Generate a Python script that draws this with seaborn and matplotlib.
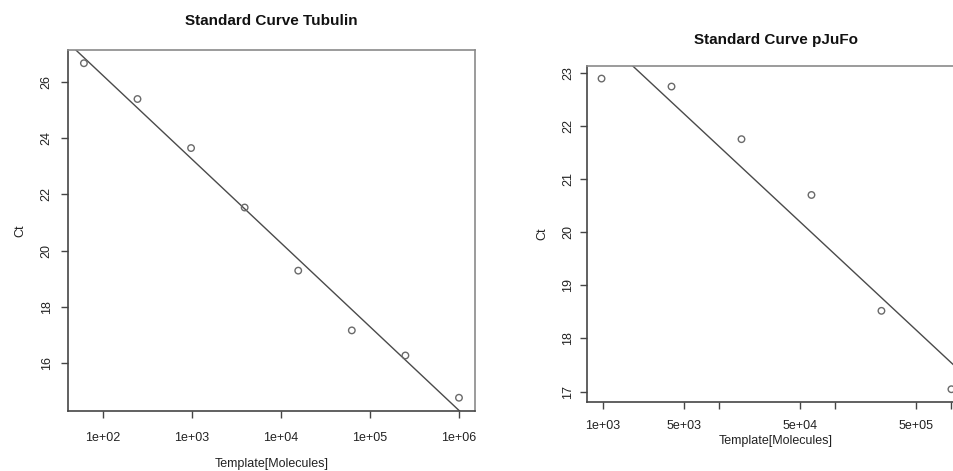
import numpy as np
import pandas as pd
import matplotlib
matplotlib.use("Agg")
import matplotlib.pyplot as plt
import seaborn as sns

# Tubulin standard: 4-fold dilution series
tub_template = [61.03515625, 244.140625, 976.5625, 3906.25, 15625.0, 62500.0, 250000.0, 1000000.0]
tub_ct = [26.65, 25.38, 23.64, 21.53, 19.29, 17.17, 16.28, 14.78]

# pJuFo standard: 4-fold dilution series
pjufo_template = [976.5625, 3906.25, 15625.0, 62500.0, 250000.0, 1000000.0]
pjufo_ct = [22.89, 22.74, 21.75, 20.70, 18.52, 17.045]

tub_xticks = [1e2, 1e3, 1e4, 1e5, 1e6]
tub_xticklabels = ["1e+02", "1e+03", "1e+04", "1e+05", "1e+06"]
tub_yticks = [16, 18, 20, 22, 24, 26]

pjufo_xticks = [1e3, 5e3, 1e4, 5e4, 1e5, 5e5, 1e6]
pjufo_xticklabels = ["1e+03", "5e+03", "", "5e+04", "", "5e+05", ""]
pjufo_yticks = [17, 18, 19, 20, 21, 22, 23]

sns.set_theme(style="white")
plt.rcParams["font.family"] = ["Liberation Sans", "DejaVu Sans"]

AX_DARK = "#454545"
AX_LIGHT = "#8a8a8a"
POINT = "#6a6a6a"
LINE = "#4a4a4a"
TEXT = "#222222"


def standard_curve(ax, template, ct, title, xticks, xticklabels, yticks,
                   xlim, ylim, title_pad, xlabel_pad, ylabel_pad,
                   xtick_pad, ytick_pad):
    df = pd.DataFrame({"template": template, "ct": ct})
    df["log_template"] = np.log10(df["template"])
    slope, intercept = np.polyfit(df["log_template"], df["ct"], 1)

    sns.scatterplot(data=df, x="template", y="ct", ax=ax, marker="o",
                    s=22, facecolor="none", edgecolor=POINT, linewidth=1.0,
                    zorder=3)
    fit_x = np.array([10.0, 1e8])
    fit = pd.DataFrame({"template": fit_x,
                        "ct": intercept + slope * np.log10(fit_x)})
    sns.lineplot(data=fit, x="template", y="ct", ax=ax, color=LINE,
                 linewidth=1.0, zorder=2)

    ax.set_xscale("log")
    ax.set_xlim(*xlim)
    ax.set_ylim(*ylim)
    ax.minorticks_off()
    ax.set_xticks(xticks)
    ax.set_xticklabels(xticklabels)
    ax.set_yticks(yticks)
    ax.set_yticklabels([str(v) for v in yticks], rotation=90, va="center")

    ax.tick_params(axis="both", which="major", length=5, width=1.0,
                   color=AX_DARK, labelsize=9, labelcolor=TEXT,
                   bottom=True, left=True)
    ax.tick_params(axis="x", pad=xtick_pad)
    ax.tick_params(axis="y", pad=ytick_pad)

    for side in ("left", "bottom"):
        ax.spines[side].set_color(AX_DARK)
        ax.spines[side].set_linewidth(1.2)
    for side in ("top", "right"):
        ax.spines[side].set_color(AX_LIGHT)
        ax.spines[side].set_linewidth(1.2)

    ax.set_title(title, fontsize=11, fontweight="bold", color="#111111",
                 pad=title_pad)
    ax.set_xlabel("Template[Molecules]", fontsize=9, color=TEXT,
                  labelpad=xlabel_pad)
    ax.set_ylabel("Ct", fontsize=9, color=TEXT, labelpad=ylabel_pad)


fig = plt.figure(figsize=(9.54, 4.71), dpi=100)
ax1 = fig.add_axes([0.0713, 0.1274, 0.4266, 0.7665])
ax2 = fig.add_axes([0.6156, 0.1471, 0.3952, 0.7127])

standard_curve(ax1, tub_template, tub_ct, "Standard Curve Tubulin",
               tub_xticks, tub_xticklabels, tub_yticks,
               (10 ** 1.607, 10 ** 6.18), (14.31, 27.12),
               title_pad=18, xlabel_pad=10, ylabel_pad=10,
               xtick_pad=10, ytick_pad=6)
standard_curve(ax2, pjufo_template, pjufo_ct, "Standard Curve pJuFo",
               pjufo_xticks, pjufo_xticklabels, pjufo_yticks,
               (10 ** 2.867, 10 ** 6.111), (16.81, 23.126),
               title_pad=16, xlabel_pad=2, ylabel_pad=10,
               xtick_pad=8, ytick_pad=4.5)

for ax in (ax1, ax2):
    leg = ax.get_legend()
    if leg is not None:
        leg.remove()

fig.savefig("out.png", dpi=100, facecolor="white")
